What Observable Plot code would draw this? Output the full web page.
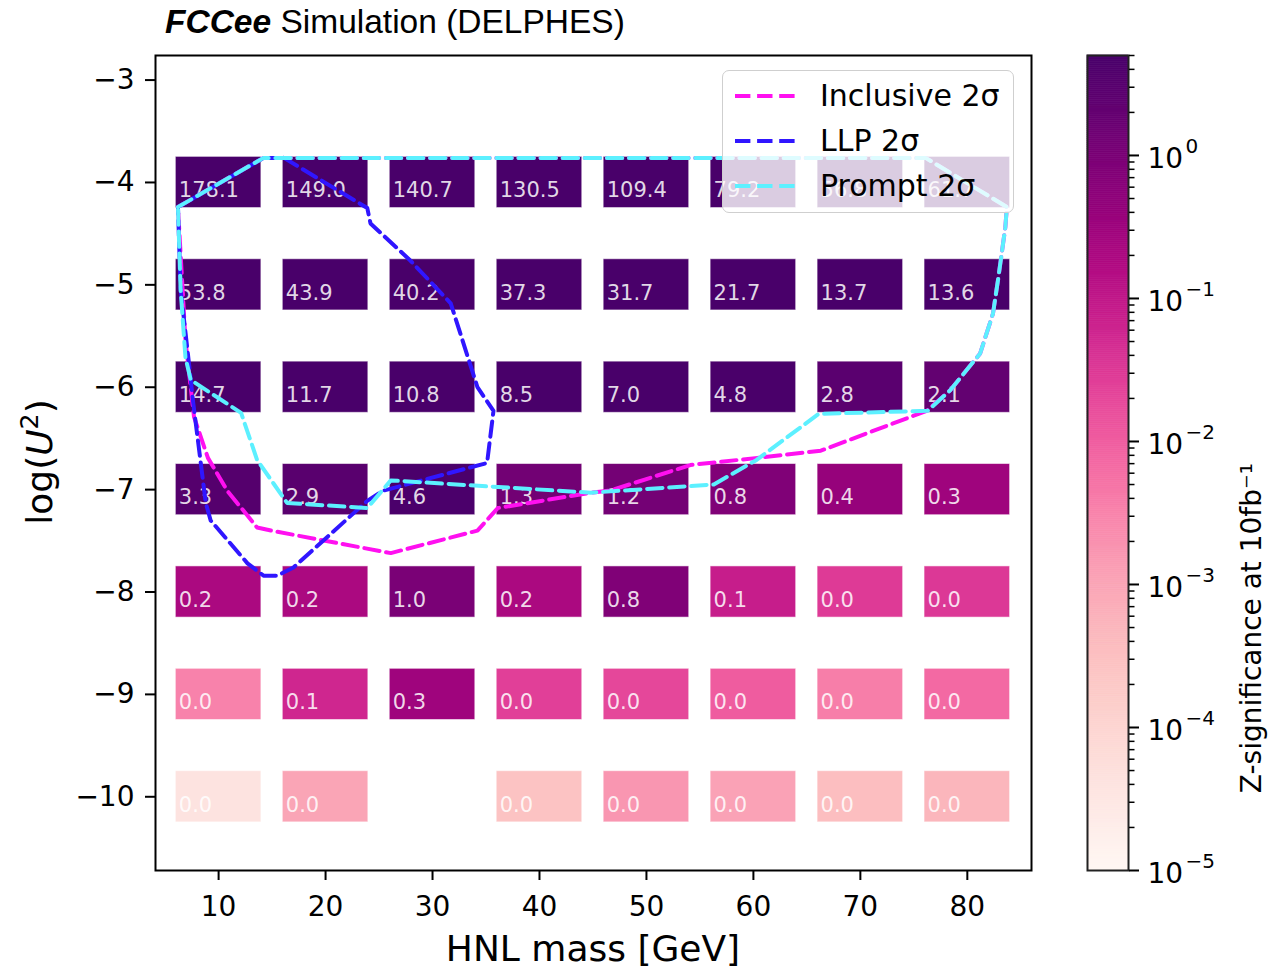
<!DOCTYPE html>
<html>
<head>
<meta charset="utf-8">
<script src="https://cdn.jsdelivr.net/npm/d3@7"></script>
<script src="https://cdn.jsdelivr.net/npm/@observablehq/plot@0.6"></script>
<style>
  body { margin: 0; background: white; }
  #wrap { position: relative; width: 1271px; height: 972px; font-family: "DejaVu Sans", sans-serif; }
  #wrap svg { position: absolute; }
  .abs { position: absolute; white-space: nowrap; }
</style>
</head>
<body>
<div id="wrap"></div>
<script>
// ---------------- data ----------------
const masses = [10, 20, 30, 40, 50, 60, 70, 80];          // HNL mass [GeV]
const logU2 = [-4, -5, -6, -7, -8, -9, -10];               // log(U^2) rows
// Z-significance at 10 fb^-1, one row per logU2 value, one column per mass
const significance = [
  [178.1, 149.0, 140.7, 130.5, 109.4, 79.2, 56.8, 61.7],
  [53.8, 43.9, 40.2, 37.3, 31.7, 21.7, 13.7, 13.6],
  [14.7, 11.7, 10.8, 8.5, 7.0, 4.8, 2.8, 2.1],
  [3.3, 2.9, 4.6, 1.3, 1.2, 0.8, 0.4, 0.3],
  [0.2, 0.2, 1.0, 0.2, 0.8, 0.08, 0.03, 0.032],
  [0.0032, 0.057, 0.3, 0.026, 0.02, 0.0105, 0.0037, 0.007],
  [0.00004, 0.001, null, 0.00027, 0.0017, 0.0011, 0.00035, 0.0005]
];
// 2 sigma contours (mass, logU2)
const inclusiveMass = [6.2, 14.2, 76.1, 83.7, 83.55, 82.9, 82.4, 81.2, 78.4, 76.2, 66.3, 60.4, 54.1, 46.6, 44.8, 36.1, 34.2, 26.1, 14.9, 13.6, 10.8, 9.0, 7.7, 6.9, 6.2];
const inclusiveLog = [-4.24, -3.76, -3.76, -4.24, -4.44, -4.93, -5.28, -5.67, -6.03, -6.23, -6.62, -6.69, -6.76, -7.01, -7.03, -7.18, -7.40, -7.62, -7.40, -7.37, -7.01, -6.69, -6.29, -5.54, -4.24];
const llpMass = [16.1, 23.9, 24.2, 27.9, 31.7, 34.2, 35.7, 35.1, 25.4, 23.9, 17.0, 15.5, 14.2, 12.7, 9.25, 8.8, 7.6, 7.2, 6.45, 6.2, 14.2, 16.1];
const llpLog = [-3.76, -4.25, -4.40, -4.76, -5.18, -6.00, -6.23, -6.74, -7.01, -7.11, -7.76, -7.84, -7.84, -7.72, -7.30, -7.13, -6.13, -5.74, -5.05, -4.24, -3.76, -3.76];
const promptMass = [6.2, 14.2, 76.1, 83.7, 83.55, 82.9, 82.4, 81.2, 78.4, 76.3, 66.1, 60.3, 56.3, 44.8, 26.1, 23.9, 16.4, 13.6, 12.1, 7.4, 6.9, 6.45, 6.2];
const promptLog = [-4.24, -3.76, -3.76, -4.24, -4.44, -4.93, -5.28, -5.67, -6.03, -6.23, -6.26, -6.71, -6.95, -7.03, -6.91, -7.18, -7.13, -6.71, -6.25, -5.93, -5.71, -5.05, -4.24];
const xTicks = [10, 20, 30, 40, 50, 60, 70, 80];
const yTicks = [-3, -4, -5, -6, -7, -8, -9, -10];
const cbMajor = [1e-5, 1e-4, 1e-3, 1e-2, 1e-1, 1];
const cbExp = ["−5", "−4", "−3", "−2", "−1", "0"];
const zMin = 1e-5, zMax = 5;

const series = [
  {name: "Inclusive 2σ", mass: inclusiveMass, log: inclusiveLog, color: "#ff10f0"},
  {name: "LLP 2σ", mass: llpMass, log: llpLog, color: "#3016ff"},
  {name: "Prompt 2σ", mass: promptMass, log: promptLog, color: "#5cf0ff"}
];

// ---------------- tables ----------------
const cells = [];
logU2.forEach((v, i) => masses.forEach((m, j) => {
  const z = significance[i][j];
  if (z != null) cells.push({m, v, z, label: z.toFixed(1)});
}));
const lineRows = series.flatMap(s => s.mass.map((m, k) => ({series: s.name, m, v: s.log[k]})));

const colorOpts = {type: "log", domain: [zMin, zMax], scheme: "rdpu", clamp: true};
const fmtMinus = d => (d < 0 ? "−" + Math.abs(d) : String(d));
const dash = "15.4,6.7";

const main = Plot.plot({
  width: 1271, height: 972,
  marginLeft: 155, marginRight: 240, marginTop: 55, marginBottom: 102,
  style: {fontFamily: "DejaVu Sans", fontSize: "28px", background: "transparent", color: "black"},
  x: {domain: [4.1, 86]},
  y: {domain: [-10.72, -2.76]},
  color: colorOpts,
  marks: [
    Plot.rect(cells, {x1: d => d.m - 4, x2: d => d.m + 4, y1: d => d.v - 0.25, y2: d => d.v + 0.25,
      fill: "z", stroke: "#ffffff", strokeOpacity: 0.55, strokeWidth: 1}),
    Plot.text(cells, {x: d => d.m - 4, y: "v", text: "label", textAnchor: "start", dx: 3, dy: 8,
      fill: "white", fillOpacity: 0.85, fontSize: 21}),
    ...series.map(s => Plot.line(lineRows.filter(r => r.series === s.name),
      {x: "m", y: "v", stroke: s.color, strokeWidth: 4, strokeDasharray: dash, curve: "linear"})),
    Plot.frame({stroke: "black", strokeWidth: 2}),
    Plot.axisX({ticks: xTicks, tickFormat: d => d, tickSize: 10, tickPadding: 16, fontSize: 28, label: null, strokeWidth: 2}),
    Plot.axisY({ticks: yTicks, tickFormat: fmtMinus, tickSize: 10, tickPadding: 11, fontSize: 28, label: null, strokeWidth: 2})
  ]
});

// ---------------- colour bar ----------------
const N = 400;
const la = Math.log10(zMin), lb = Math.log10(zMax);
const cbStops = d3.range(N).map(i => {
  const a = la + (lb - la) * i / N, b = la + (lb - la) * (i + 1) / N;
  return {y1: 10 ** a, y2: 10 ** b, v: 10 ** ((a + b) / 2)};
});
const cbMinor = [];
for (let e = -5; e <= 0; e++) for (let k = 2; k <= 9; k++) { const t = k * 10 ** e; if (t <= zMax) cbMinor.push(t); }
const cbLabels = cbMajor.map((t, i) => ({t, e: cbExp[i]}));

const cbar = Plot.plot({
  width: 191, height: 972,
  marginLeft: 7, marginRight: 143, marginTop: 55, marginBottom: 102,
  style: {fontFamily: "DejaVu Sans", fontSize: "28px", background: "transparent", color: "black"},
  y: {type: "log", domain: [zMin, zMax]},
  x: {domain: [0, 1], axis: null},
  color: colorOpts,
  marks: [
    Plot.rect(cbStops, {y1: "y1", y2: "y2", fill: "v", stroke: "v", strokeWidth: 0.6}),
    Plot.frame({stroke: "#222", strokeWidth: 2}),
    Plot.axisY({anchor: "right", ticks: cbMajor, tickSize: 10, tickFormat: () => "", label: null, strokeWidth: 2}),
    Plot.axisY({anchor: "right", ticks: cbMinor, tickSize: 5.5, tickFormat: () => "", label: null, strokeWidth: 1.5}),
    Plot.text(cbLabels, {y: "t", text: () => "10", frameAnchor: "right", textAnchor: "start", dx: 19, dy: 4, fontSize: 28}),
    Plot.text(cbLabels, {y: "t", text: "e", frameAnchor: "right", textAnchor: "start", dx: 57, dy: -9, fontSize: 20}),
    Plot.text(["Z-significance at 10fb⁻¹"], {frameAnchor: "right", text: d => d, rotate: -90, dx: 124, fontSize: 28})
  ]
});

const wrap = document.getElementById("wrap");
main.style.left = "0px"; main.style.top = "0px";
cbar.style.left = "1080px"; cbar.style.top = "0px";
wrap.appendChild(main);
wrap.appendChild(cbar);

// ---------------- title, axis labels, legend ----------------
function addDiv(html, css) {
  const d = document.createElement("div");
  d.className = "abs";
  d.innerHTML = html;
  Object.assign(d.style, css);
  wrap.appendChild(d);
  return d;
}
addDiv('<span style="font-weight:bold;font-style:italic">FCCee</span> Simulation (DELPHES)',
  {left: "165px", top: "5px", fontFamily: '"Liberation Sans", Arial, sans-serif', fontSize: "33.5px", lineHeight: "33px"});
addDiv("HNL mass [GeV]", {left: "593px", top: "931px", transform: "translateX(-50%)", fontSize: "36px", lineHeight: "36px"});
addDiv('log(<i>U</i><sup style="font-size:0.7em;vertical-align:0.55em;line-height:0">2</sup>)',
  {left: "40px", top: "462px", transform: "translate(-50%,-50%) rotate(-90deg)", fontSize: "36px", lineHeight: "36px"});

const legend = addDiv("", {left: "722px", top: "70px", width: "290px", height: "141px",
  background: "rgba(255,255,255,0.8)", border: "1.5px solid #cfcfcf", borderRadius: "7px"});
series.forEach((s, i) => {
  const cy = 26 + i * 45;
  addDiv(`<svg width="64" height="8" style="position:static;display:block"><line x1="1" y1="4" x2="63" y2="4" stroke="${s.color}" stroke-width="4" stroke-dasharray="${dash}"/></svg>`,
    {left: (722 + 12) + "px", top: (70 + cy - 4) + "px"});
  addDiv(s.name, {left: "820px", top: (70 + cy - 17) + "px", fontSize: "30px", lineHeight: "34px"});
});
</script>
</body>
</html>
